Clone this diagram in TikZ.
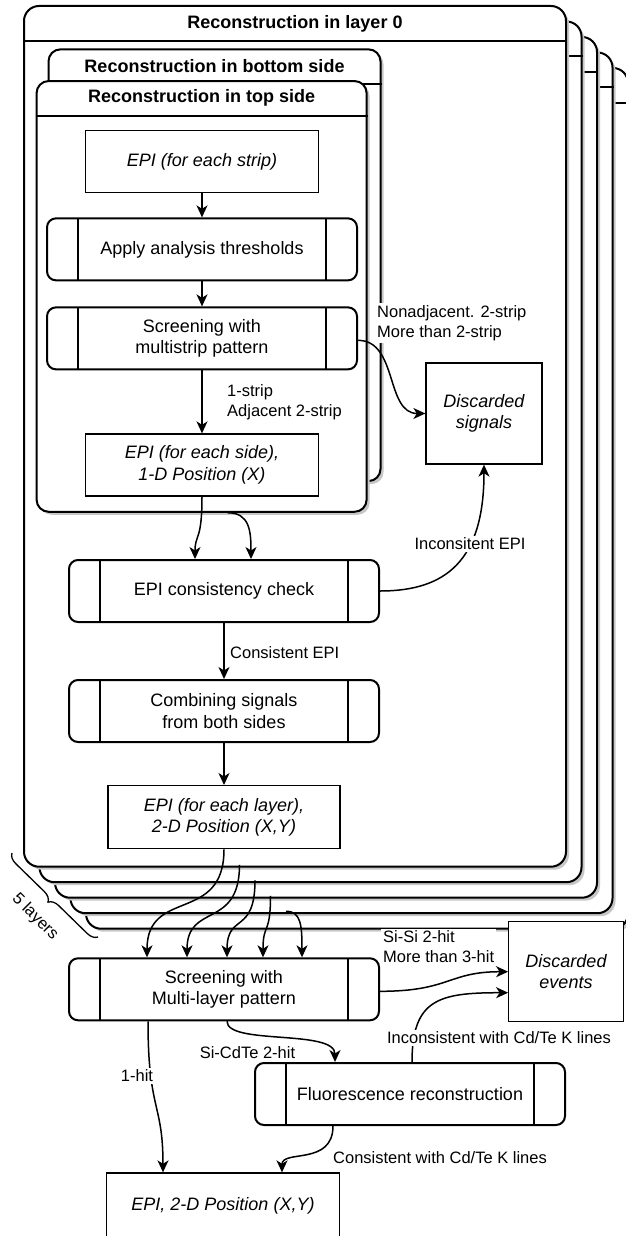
\documentclass[tikz,border=0pt]{standalone}
\usepackage{fontspec}
\setmainfont{Liberation Sans}
\usepackage{tikz}
\usetikzlibrary{arrows.meta, positioning, shadows, decorations.pathreplacing}

\begin{document}
\begin{tikzpicture}[
  x=1pt, y=-1pt,
  lane/.style     ={rectangle, draw=black, line width=2pt, rounded corners=15pt,
                    fill=white, inner sep=0pt,
                    drop shadow={shadow xshift=3pt, shadow yshift=-3pt,
                                 fill=black!22, opacity=1}},
  hdr/.style      ={line width=2pt},
  lanetitle/.style={font=\fontsize{18}{21.6}\selectfont\bfseries, inner sep=0pt},
  proc/.style     ={rectangle, draw=black, line width=2pt, rounded corners=9pt,
                    fill=white, minimum width=310pt, minimum height=62pt,
                    inner sep=0pt, align=center, font=\fontsize{18}{21.6}\selectfont,
                    path picture={
                      \draw[line width=2pt]
                        ([xshift=31pt]path picture bounding box.north west) --
                        ([xshift=31pt]path picture bounding box.south west)
                        ([xshift=-31pt]path picture bounding box.north east) --
                        ([xshift=-31pt]path picture bounding box.south east);}},
  epibox/.style   ={rectangle, draw=black, line width=1.3pt, fill=white,
                    minimum width=233pt, minimum height=62pt, inner sep=0pt,
                    align=center, font=\fontsize{18}{21.6}\selectfont\itshape},
  lbl/.style      ={font=\fontsize{16.5}{19.8}\selectfont, align=left, inner sep=2pt},
  arr/.style      ={-{Stealth[length=12pt,width=11pt,inset=3.5pt]}, line width=1.5pt}
]
\useasboundingbox (0,0) rectangle (625,1236);
% ---- Layer stack (back to front) -------------------------------------------
\foreach \k in {4,3,2,1,0}{
  \node[lane, minimum width=542pt, minimum height=860.7pt]
    (lay\k) at ({295+15.5*\k},{436.35+15.5*\k}) {};
  \draw[hdr] ([yshift=-36pt]lay\k.north west) -- ([yshift=-36pt]lay\k.north east);
}
\node[lanetitle] (lay0t) at ([yshift=-19pt]lay0.north) {Reconstruction in layer 0};
% ---- Bottom / top side -----------------------------------------------------
\node[lane, rounded corners=12pt, minimum width=332pt, minimum height=431.7pt]
  (bside) at (214.5,265.2) {};
\draw[hdr] ([yshift=-36pt]bside.north west) -- ([yshift=-36pt]bside.north east);
\node[lanetitle] (bsidet) at ([yshift=-18pt]bside.north) {Reconstruction in bottom side};
\node[lane, rounded corners=12pt, minimum width=330pt, minimum height=430.7pt]
  (tside) at (201.6,296.4) {};
\draw[hdr] ([yshift=-36pt]tside.north west) -- ([yshift=-36pt]tside.north east);
\node[lanetitle] (tsidet) at ([yshift=-18pt]tside.north) {Reconstruction in top side};
% ---- Strip level -----------------------------------------------------------
\node[epibox] (strip) at (202,161.7) {EPI (for each strip)};
\node[proc, below=24pt of strip] (apply) {Apply analysis thresholds};
\node[proc, below=25pt of apply] (msp)   {Screening with\\multistrip pattern};
\node[epibox, below=63pt of msp] (side)  {EPI (for each side),\\1-D Position (X)};
\node[epibox, minimum width=116pt, minimum height=101pt] (dsig) at (484,413.5) {Discarded\\signals};
% ---- Layer level -----------------------------------------------------------
\node[proc] (cons) at (224,591) {EPI consistency check};
\node[proc, below=56pt of cons] (comb) {Combining signals\\from both sides};
\node[epibox, minimum width=232pt, minimum height=63pt, below=42pt of comb]
  (epil) {EPI (for each layer),\\2-D Position (X,Y)};
\foreach \k in {1,...,4}
  \coordinate (epil\k) at ([xshift={15.5pt*\k}, yshift={-15.5pt*\k}]epil.south);
\coordinate (bsout) at ([xshift=26pt]tside.south);
% ---- Event level -----------------------------------------------------------
\node[proc] (mlp) at (224,989.3) {Screening with\\Multi-layer pattern};
\node[epibox, minimum width=114.5pt, minimum height=100pt] (dev) at (566,971.7) {Discarded\\events};
\node[proc] (fl) at (410,1094) {Fluorescence reconstruction};
\node[epibox, minimum width=232.6pt, minimum height=66pt] (fin) at (223,1206) {EPI, 2-D Position (X,Y)};
% ---- Arrows ----------------------------------------------------------------
\draw[arr] (strip) -- (apply);
\draw[arr] (apply) -- (msp);
\draw[arr] (msp) -- (side);
\draw[arr] ([yshift=-2pt]msp.east) .. controls +(40,0) and +(-40,0) .. (dsig.west);
\draw[arr] (side.south) .. controls +(0,45) and +(0,-25) .. ([xshift=-29pt]cons.north);
\draw[arr] (bsout) .. controls +(22,0) and +(0,-28) .. ([xshift=27pt]cons.north);
\draw[arr] (cons) -- (comb);
\draw[arr] (cons.east) .. controls +(66,0) and +(0,96) .. (dsig.south);
\draw[arr] (comb) -- (epil);
\draw[arr] (epil.south) .. controls +(0,75) and +(0,-70) .. ([xshift=-77pt]mlp.north);
\draw[arr] (epil1) .. controls +(0,65) and +(0,-55) .. ([xshift=-37pt]mlp.north);
\draw[arr] (epil2) .. controls +(0,55) and +(0,-45) .. ([xshift=3pt]mlp.north);
\draw[arr] (epil3) .. controls +(0,40) and +(0,-35) .. ([xshift=39pt]mlp.north);
\draw[arr] (epil4) .. controls +(15,0) and +(0,-32) .. ([xshift=78pt]mlp.north);
\draw[arr] ([yshift=-2pt]mlp.east) .. controls +(70,0) and +(-60,0) .. (dev.west);
\draw[arr] ([xshift=2pt]fl.north) .. controls +(0,-63) and +(-69,0) .. ([yshift=-21pt]dev.west);
\draw[arr] ([xshift=3pt]mlp.south) .. controls +(0,24) and +(0,-33) .. ([xshift=-75pt]fl.north);
\draw[arr] ([xshift=-76pt]mlp.south) .. controls +(0,90) and +(0,-70) .. ([xshift=-60pt]fin.north);
\draw[arr] ([xshift=-77pt]fl.south) .. controls +(0,40) and +(0,-23) .. ([xshift=59pt]fin.north);
% ---- Labels ----------------------------------------------------------------
\node[lbl, fill=white, anchor=west] (lnon)  at (375,323)    {Nonadjacent. 2-strip\\More than 2-strip};
\node[lbl, anchor=west]             (lone)  at (225,402)    {1-strip\\Adjacent 2-strip};
\node[lbl, fill=white]              (linc)  at (470,544)    {Inconsitent EPI};
\node[lbl, anchor=west]             (lcon)  at (228,653)    {Consistent EPI};
\node[lbl, fill=white, anchor=west] (lsisi) at (381,946.7)  {Si-Si 2-hit\\More than 3-hit};
\node[lbl]                          (lsicd) at (247.5,1052.7) {Si-CdTe 2-hit};
\node[lbl, fill=white]              (lhit)  at (137,1076)   {1-hit};
\node[lbl, fill=white]              (lkin)  at (499,1038)   {Inconsistent with Cd/Te K lines};
\node[lbl, anchor=west]             (lkcon) at (331,1158)   {Consistent with Cd/Te K lines};
% ---- Layer count brace -----------------------------------------------------
\draw[decorate, decoration={brace, amplitude=10pt}, line width=1.3pt] (98,937) -- (12,853);
\node[lbl, rotate=-45] (lfive) at (35,917) {5 layers};
\end{tikzpicture}
\end{document}
